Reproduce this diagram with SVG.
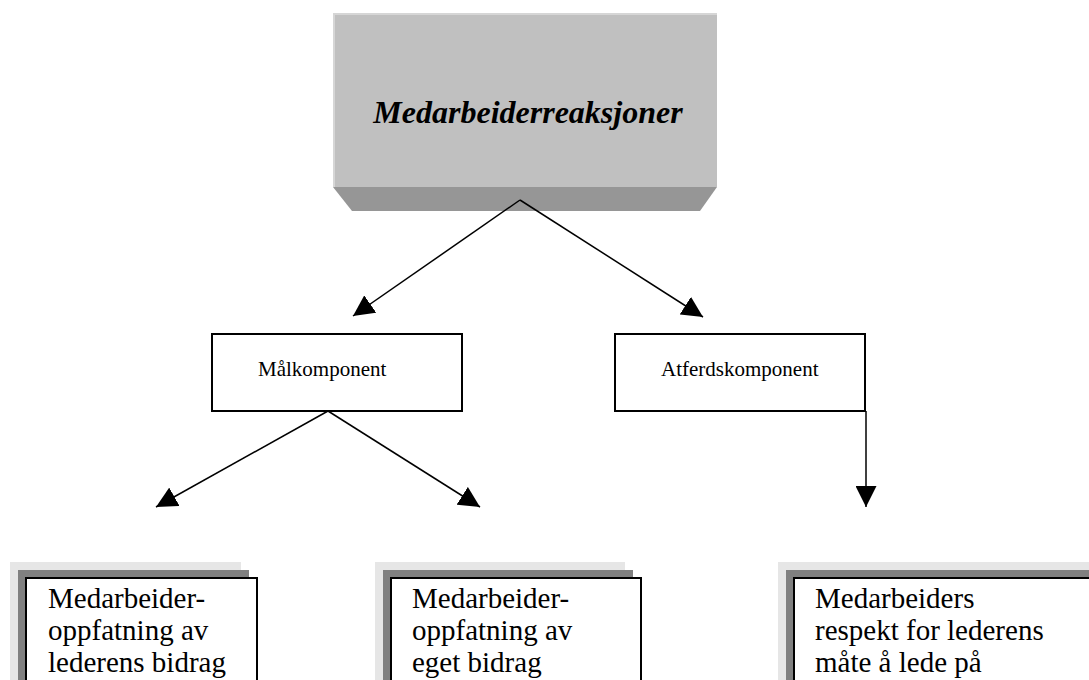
<svg xmlns="http://www.w3.org/2000/svg" width="1089" height="680" viewBox="0 0 1089 680">
<style>
.t{font-family:"Liberation Serif","Times New Roman",serif;fill:#000}
.mid{font-size:21px}
.bt{font-size:29px}
.box{fill:#fff;stroke:#000;stroke-width:2}
.sh1{fill:#e6e6e6}
.sh2{fill:#808080}
.ln{stroke:#000;stroke-width:1.5;fill:none;marker-end:url(#ah)}
</style>
<defs>
<marker id="ah" viewBox="0 0 20 20" refX="20" refY="10" markerWidth="21" markerHeight="21" markerUnits="userSpaceOnUse" orient="auto">
<path d="M0,0 L20,10 L0,20 Z" fill="#000"/>
</marker>
</defs>
<rect width="1089" height="680" fill="#fff"/>
<g id="top">
<polygon points="333,187 717,187 700,211 352,211" fill="#969696"/>
<rect x="333" y="13" width="384" height="174" fill="#c0c0c0"/>
<rect x="333" y="13" width="384" height="2" fill="#d6d6d6"/>
<rect x="333" y="13" width="2" height="174" fill="#d6d6d6"/>
<text class="t" x="528" y="123" font-size="32" font-weight="bold" font-style="italic" text-anchor="middle">Medarbeiderreaksjoner</text>
</g>
<g id="malkomponent">
<rect class="box" x="212" y="334" width="250" height="77"/>
<text class="t mid" x="258" y="376">Målkomponent</text>
</g>
<g id="atferdskomponent">
<rect class="box" x="615" y="334" width="250" height="77"/>
<text class="t mid" x="661" y="376">Atferdskomponent</text>
</g>
<g id="leder-bidrag">
<rect class="sh1" x="10" y="562" width="231" height="144"/>
<rect class="sh2" x="18" y="570" width="231" height="144"/>
<rect class="box" x="26" y="578" width="231" height="144"/>
<text class="t bt"><tspan x="48" y="608">Medarbeider-</tspan><tspan x="48" y="640">oppfatning av</tspan><tspan x="48" y="672">lederens bidrag</tspan></text>
</g>
<g id="eget-bidrag">
<rect class="sh1" x="375" y="562" width="250" height="144"/>
<rect class="sh2" x="383" y="570" width="250" height="144"/>
<rect class="box" x="391" y="578" width="250" height="144"/>
<text class="t bt"><tspan x="412" y="608">Medarbeider-</tspan><tspan x="412" y="640">oppfatning av</tspan><tspan x="412" y="672">eget bidrag</tspan></text>
</g>
<g id="respekt">
<rect class="sh1" x="778" y="562" width="320" height="144"/>
<rect class="sh2" x="786" y="570" width="320" height="144"/>
<rect class="box" x="794" y="578" width="320" height="144"/>
<text class="t bt"><tspan x="815" y="608">Medarbeiders</tspan><tspan x="815" y="640">respekt for lederens</tspan><tspan x="815" y="672">måte å lede på</tspan></text>
</g>
<g id="connectors">
<line class="ln" x1="520" y1="200" x2="353" y2="316"/>
<line class="ln" x1="520" y1="200" x2="703" y2="317"/>
<line class="ln" x1="328" y1="411" x2="156" y2="507"/>
<line class="ln" x1="328" y1="411" x2="480" y2="507"/>
<line class="ln" x1="866" y1="411" x2="866" y2="507"/>
</g>
</svg>
